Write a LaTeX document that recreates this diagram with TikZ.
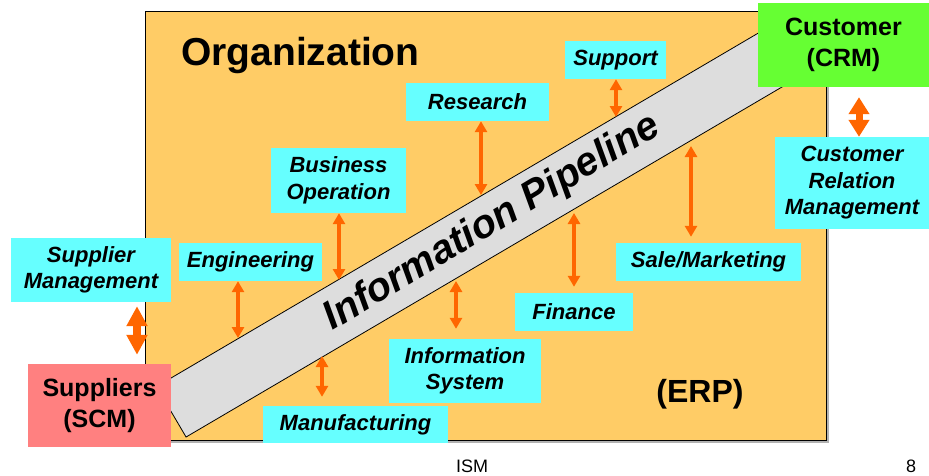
\documentclass[tikz,border=0pt]{standalone}
\usepackage{fontspec}
\setmainfont{Liberation Sans}
\usetikzlibrary{arrows.meta,calc}
\definecolor{orgfill}{HTML}{FFCC66}
\definecolor{cyanbox}{HTML}{66FFFF}
\definecolor{custgreen}{HTML}{66FF33}
\definecolor{supred}{HTML}{FF8080}
\definecolor{arrorange}{HTML}{FF6600}
\definecolor{pipegray}{HTML}{DDDDDD}
\begin{document}
\begin{tikzpicture}[x=1pt,y=-1pt,
  lbl/.style={fill=cyanbox, inner sep=0pt, align=center, font=\fontsize{22}{26.5}\selectfont\bfseries\itshape},
  bigbox/.style={inner sep=0pt, align=center, font=\fontsize{25}{31}\selectfont\bfseries},
  link/.style={draw=arrorange, line width=3.5pt, {Triangle[width=12pt,length=11pt]}-{Triangle[width=12pt,length=11pt]}},
  biglink/.style={draw=arrorange, line width=8pt, {Triangle[width=20pt,length=20pt]}-{Triangle[width=20pt,length=20pt]}},
  smalllink/.style={draw=arrorange, line width=7pt, {Triangle[width=20pt,length=17pt]}-{Triangle[width=20pt,length=17pt]}},
]
\useasboundingbox (0,0) rectangle (929,475);
% organization frame
\fill[black!30] (148,14) rectangle (829,443);
\filldraw[fill=orgfill, draw=black, line width=1pt] (145,11) rectangle (826,440);
\node[anchor=base west, inner sep=0pt, font=\fontsize{39}{40}\selectfont\bfseries] (org) at (181,65) {Organization};
\node[anchor=base, inner sep=0pt, font=\fontsize{32}{34}\selectfont\bfseries] (erp) at (700,402) {(ERP)};
% pipeline
\node[draw=black, line width=0.8pt, fill=pipegray, rotate=30.43, minimum width=712pt, minimum height=58.5pt, inner sep=0pt] (pipe) at (478.2,231.5) {};
\node[rotate=31, inner sep=0pt, font=\fontsize{40}{42}\selectfont\bfseries\itshape] (pipetext) at (492,223) {Information Pipeline};
% end points on the pipeline
\coordinate (pSup) at (616,117);
\coordinate (pRes) at (481,195);
\coordinate (pBO) at (339,280);
\coordinate (pEng) at (238,338);
\coordinate (pMan) at (322,356);
\coordinate (pIS) at (456,281);
\coordinate (pFin) at (574,213);
\coordinate (pSal) at (691,146);
\coordinate (sx) at (137,0);
\coordinate (cx) at (859,0);
% outside boxes
\node[bigbox, fill=custgreen, minimum width=171pt, minimum height=84pt] (customer) at (843.5,45) {Customer\\(CRM)};
\node[bigbox, fill=supred, minimum width=143pt, minimum height=83pt] (suppliers) at (99.5,405.5) {Suppliers\\(SCM)};
\node[lbl, minimum width=154pt, minimum height=92pt] (crm) at (852,183) {Customer\\Relation\\Management};
\node[lbl, minimum width=160pt, minimum height=64pt] (supmgmt) at (91,270) {Supplier\\Management};
% inside boxes
\node[lbl, minimum width=101pt, minimum height=38pt] (support) at (615.5,60) {Support};
\node[lbl, minimum width=143pt, minimum height=38pt] (research) at (477.5,102) {Research};
\node[lbl, minimum width=135pt, minimum height=65pt] (busop) at (338.5,180.5) {Business\\Operation};
\node[lbl, minimum width=143pt, minimum height=38pt] (eng) at (250.5,262) {Engineering};
\node[lbl, minimum width=185pt, minimum height=38pt] (sale) at (708.5,262) {Sale/Marketing};
\node[lbl, minimum width=118pt, minimum height=38pt] (finance) at (574,312) {Finance};
\node[lbl, minimum width=152pt, minimum height=64pt] (infosys) at (465,371) {Information\\System};
\node[lbl, minimum width=185pt, minimum height=37pt] (manuf) at (355.5,424.5) {Manufacturing};
% connectors
\draw[link] (support.south -| pSup) -- (pSup);
\draw[link] (research.south -| pRes) -- (pRes);
\draw[link] (busop.south -| pBO) -- (pBO);
\draw[link] (eng.south -| pEng) -- (pEng);
\draw[link] (pMan) -- ($(manuf.north -| pMan)+(0,-9)$);
\draw[link] (pIS) -- ($(infosys.north -| pIS)+(0,-10)$);
\draw[link] (pFin) -- ($(finance.north -| pFin)+(0,-6)$);
\draw[link] (pSal) -- ($(sale.north -| pSal)+(0,-6)$);
\draw[biglink] ($(supmgmt.south -| sx)+(0,4)$) -- ($(suppliers.north -| sx)+(0,-9)$);
\draw[smalllink] ($(customer.south -| cx)+(0,10)$) -- (crm.north -| cx);
% footer
\node[anchor=base, inner sep=0pt, font=\fontsize{18}{20}\selectfont] (ism) at (472,472) {ISM};
\node[anchor=base, inner sep=0pt, font=\fontsize{18}{20}\selectfont] (page) at (911,472) {8};
\end{tikzpicture}
\end{document}
